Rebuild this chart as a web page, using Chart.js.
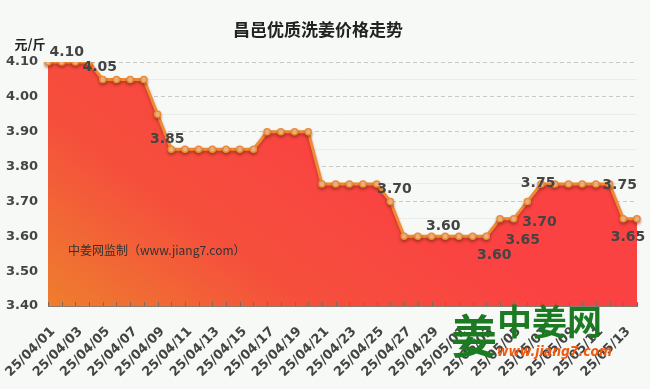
<!DOCTYPE html>
<html>
<head>
<meta charset="utf-8">
<script src="https://cdn.jsdelivr.net/npm/chart.js@4/dist/chart.umd.min.js"></script>
<style>
  html, body { margin: 0; padding: 0; background: #f7f9f6; }
  #wrap { width: 650px; height: 389px; position: relative; }
</style>
</head>
<body>
<div id="wrap"><canvas id="priceChart"></canvas></div>
<script>
// 日期（每天一个点）
const dates = [
  '25/04/01','25/04/02','25/04/03','25/04/04','25/04/05','25/04/06','25/04/07','25/04/08',
  '25/04/09','25/04/10','25/04/11','25/04/12','25/04/13','25/04/14','25/04/15','25/04/16',
  '25/04/17','25/04/18','25/04/19','25/04/20','25/04/21','25/04/22','25/04/23','25/04/24',
  '25/04/25','25/04/26','25/04/27','25/04/28','25/04/29','25/04/30','25/05/01','25/05/02',
  '25/05/03','25/05/04','25/05/05','25/05/06','25/05/07','25/05/08','25/05/09','25/05/10',
  '25/05/11','25/05/12','25/05/13','25/05/14'
];
// 价格 元/斤
const prices = [
  4.10, 4.10, 4.10, 4.10, 4.05, 4.05, 4.05, 4.05,
  3.95, 3.85, 3.85, 3.85, 3.85, 3.85, 3.85, 3.85,
  3.90, 3.90, 3.90, 3.90, 3.75, 3.75, 3.75, 3.75,
  3.75, 3.70, 3.60, 3.60, 3.60, 3.60, 3.60, 3.60,
  3.60, 3.65, 3.65, 3.70, 3.75, 3.75, 3.75, 3.75,
  3.75, 3.75, 3.65, 3.65
];
const yTicks = [3.40, 3.50, 3.60, 3.70, 3.80, 3.90, 4.00, 4.10];
// 标数值的点
const labelIdx = [1, 4, 9, 25, 29, 32, 34, 35, 36, 41, 43];
// 标签偏移（样式）
const labelOffset = [[5,-10],[-3,-12],[-4,-10],[4,-12],[-2,-10],[8,19],[9,22],[12,21],[-3,-1],[10,1],[-9,19]];

const decor = {
  id: 'decor',
  beforeDraw(chart) {
    const c = chart.ctx;
    c.save();
    c.fillStyle = '#f7f9f6';
    c.fillRect(0, 0, chart.width, chart.height);
    c.restore();
  },
  beforeDatasetDraw(chart) {
    // 折线下方的阴影
    const c = chart.ctx;
    c.save();
    c.shadowColor = 'rgba(120,40,10,0.45)';
    c.shadowBlur = 3;
    c.shadowOffsetY = 2;
  },
  afterDatasetDraw(chart) {
    chart.ctx.restore();
  },
  afterDatasetsDraw(chart) {
    const { ctx: c, chartArea: a, scales: { x } } = chart;
    const meta = chart.getDatasetMeta(0);
    c.save();
    // 刻度线朝上
    c.strokeStyle = '#7a6a60';
    c.lineWidth = 1;
    x.ticks.forEach((t, i) => {
      const px = Math.round(x.getPixelForTick(i)) + 0.5;
      c.beginPath();
      c.moveTo(px, a.bottom);
      c.lineTo(px, a.bottom - 4);
      c.stroke();
    });
    // 数值标签
    c.font = 'bold 14px "DejaVu Sans"';
    c.fillStyle = '#444';
    c.textAlign = 'center';
    c.textBaseline = 'middle';
    labelIdx.forEach((idx, k) => {
      const p = meta.data[idx];
      c.fillText(prices[idx].toFixed(2), p.x + labelOffset[k][0], p.y + labelOffset[k][1]);
    });
    c.restore();
  },
  afterDraw(chart) {
    const { ctx: c, chartArea: a } = chart;
    c.save();
    c.fillStyle = '#222';
    c.textAlign = 'center';
    c.textBaseline = 'middle';
    c.font = 'bold 17px "Noto Sans CJK SC"';
    c.fillText('昌邑优质洗姜价格走势', 318, 30);
    c.font = 'bold 13px "Noto Sans CJK SC"';
    c.fillText('元/斤', 30, 44);

    c.textAlign = 'left';
    c.fillStyle = '#333';
    c.font = '12px "Noto Sans CJK SC"';
    c.fillText('中姜网监制（www.jiang7.com）', a.left + 20, a.top + 188);

    // logo
    c.fillStyle = '#1c7a22';
    c.font = 'bold 46px "Noto Sans CJK SC"';
    c.textAlign = 'center';
    c.fillText('姜', 474, 336);
    c.font = 'bold 35px "Noto Sans CJK SC"';
    c.textAlign = 'left';
    c.fillText('中姜网', 497, 322, 116);
    c.fillStyle = '#f25a12';
    c.font = 'italic bold 14px "DejaVu Sans"';
    c.fillText('www.jiang7.com', 497, 352, 115);
    c.restore();
  }
};

new Chart(document.getElementById('priceChart'), {
  type: 'line',
  data: {
    labels: dates,
    datasets: [{
      data: prices,
      borderColor: '#f08a34',
      borderWidth: 3,
      tension: 0,
      fill: 'start',
      backgroundColor: (ctx) => {
        const { chartArea: a, ctx: c } = ctx.chart;
        if (!a) return '#f25a3a';
        const g = c.createLinearGradient(a.left + (a.right - a.left) * 0.3, a.top, a.left, a.bottom);
        g.addColorStop(0, '#fa4242');
        g.addColorStop(0.5, '#f5503c');
        g.addColorStop(1, '#ee7e2e');
        return g;
      },
      pointRadius: 3,
      pointBorderWidth: 1.5,
      pointBackgroundColor: '#fbd0a4',
      pointBorderColor: '#ee8a32'
    }]
  },
  options: {
    responsive: true,
    maintainAspectRatio: false,
    animation: false,
    layout: { padding: { top: 62, right: 13, left: 0, bottom: 0 } },
    scales: {
      x: {
        offset: false,
        grid: { display: false, drawTicks: false },
        border: { display: true, color: '#8a7a70', width: 1 },
        afterFit: (axis) => {
          axis.paddingLeft = 0;
          axis.paddingRight = 0;
          axis.height = 83;
        },
        ticks: {
          autoSkip: false,
          minRotation: 45,
          maxRotation: 45,
          padding: 18,
          labelOffset: 5,
          color: '#444',
          font: { family: 'DejaVu Sans', size: 13, weight: 'bold' },
          callback: (v, i) => (i % 2 === 0 ? dates[i] : '')
        }
      },
      y: {
        min: 3.4,
        max: 4.1,
        afterBuildTicks: (axis) => { axis.ticks = yTicks.map(v => ({ value: v })); },
        afterFit: (axis) => { axis.width = 48; },
        grid: { color: '#c9c9c9', drawTicks: false },
        border: { display: true, color: '#8a7a70', dash: [4, 3] },
        ticks: {
          padding: 10,
          color: '#444',
          font: { family: 'DejaVu Sans', size: 13, weight: 'bold' },
          callback: (v) => Number(v).toFixed(2)
        }
      },
      y2: {
        position: 'left',
        min: 3.4,
        max: 4.1,
        afterBuildTicks: (axis) => {
          axis.ticks = yTicks.slice(1).map((v, i) => ({ value: (v + yTicks[i]) / 2 }));
        },
        afterFit: (axis) => { axis.width = 0; },
        grid: { color: '#ebedea', drawTicks: false },
        border: { display: false },
        ticks: { display: false }
      }
    },
    plugins: {
      legend: { display: false },
      tooltip: { enabled: false }
    }
  },
  plugins: [decor]
});
</script>
</body>
</html>
